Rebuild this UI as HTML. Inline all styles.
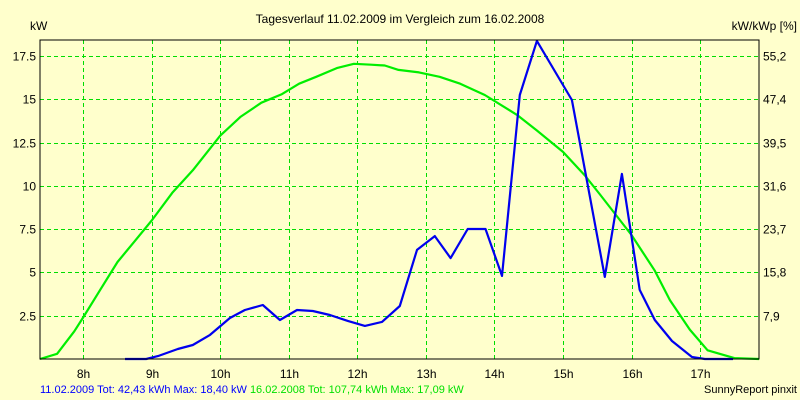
<!DOCTYPE html>
<html><head><meta charset="utf-8"><style>
html,body{margin:0;padding:0;background:#FFFFCC;}
svg{display:block;font-family:"Liberation Sans",sans-serif;}
</style></head><body>
<svg id="chart" width="800" height="400" viewBox="0 0 800 400">
<rect x="0" y="0" width="800" height="400" fill="#FFFFCC"/>
<text x="400" y="23" font-size="12" text-anchor="middle" fill="#000">Tagesverlauf 11.02.2009 im Vergleich zum 16.02.2008</text>
<text x="30" y="30" font-size="12" fill="#000">kW</text>
<text x="797" y="30" font-size="12" text-anchor="end" fill="#000">kW/kWp [%]</text>
<g id="grid"></g>
<g id="series"></g>
<g id="labels"></g>
<rect x="40" y="40" width="719" height="319" fill="none" stroke="#000" stroke-width="1"/>
<text x="40" y="393" font-size="11" fill="#0000FF">11.02.2009 Tot: 42,43 kWh Max: 18,40 kW <tspan fill="#00E000">16.02.2008 Tot: 107,74 kWh Max: 17,09 kW</tspan></text>
<text x="797" y="393" font-size="11" text-anchor="end" fill="#000">SunnyReport pinxit</text>
</svg>
<script>
const yTicks = [2.5, 5, 7.5, 10, 12.5, 15, 17.5];
const yTickLabels = ["2.5","5","7.5","10","12.5","15","17.5"];
const rightTickLabels = ["7,9","15,8","23,7","31,6","39,5","47,4","55,2"];
const xTicks = [8,9,10,11,12,13,14,15,16,17];
const xTickLabels = ["8h","9h","10h","11h","12h","13h","14h","15h","16h","17h"];
const blueHours = [8.61,8.92,9.09,9.38,9.60,9.85,10.14,10.36,10.62,10.87,11.12,11.35,11.60,11.86,12.11,12.36,12.62,12.87,13.13,13.36,13.61,13.87,14.11,14.37,14.62,15.13,15.61,15.86,16.12,16.34,16.59,16.88,17.07,17.48];
const blueKw = [0,0,0.17,0.58,0.81,1.39,2.37,2.83,3.12,2.25,2.83,2.77,2.54,2.2,1.91,2.14,3.06,6.3,7.1,5.83,7.51,7.51,4.8,15.25,18.37,14.96,4.74,10.69,3.99,2.25,1.04,0.12,0,0];
const greenHours = [7.37,7.62,7.87,8.0,8.25,8.5,8.75,9.0,9.3,9.6,10.0,10.3,10.6,10.9,11.15,11.4,11.7,11.95,12.2,12.4,12.6,12.9,13.2,13.5,13.86,14.33,14.62,15.0,15.32,15.54,16.0,16.34,16.56,16.85,17.11,17.5,17.86];
const greenKw = [0,0.3,1.6,2.4,4.0,5.6,6.8,8.0,9.6,10.9,12.9,14.0,14.8,15.3,15.9,16.3,16.8,17.05,17.0,16.95,16.7,16.55,16.3,15.9,15.25,14.1,13.2,11.96,10.6,9.5,7.16,5.1,3.4,1.7,0.5,0.05,0];

const X0=40, X1=759, Y0=359, Y1=56;
const H0=7.37, H1=17.86;
const xs = h => X0 + (h-H0)/(H1-H0)*(X1-X0);
const ys = v => Y0 - v/17.5*(Y0-Y1);
const NS="http://www.w3.org/2000/svg";
const grid=document.getElementById('grid'), series=document.getElementById('series'), labels=document.getElementById('labels');
function mk(tag, attrs, parent){const e=document.createElementNS(NS,tag);for(const k in attrs)e.setAttribute(k,attrs[k]);parent.appendChild(e);return e;}
yTicks.forEach((v,i)=>{
  const y=Math.round(ys(v))+0.5;
  const l=mk('line',{x1:X0,x2:X1,y1:y,y2:y,stroke:'#00DD00','stroke-dasharray':'4,3'},grid);
  
  
  const t=mk('text',{x:36,y:y+4,'font-size':12,'text-anchor':'end',fill:'#000'},labels);
  t.textContent=yTickLabels[i];
  
  
  const r=mk('text',{x:763,y:y+4,'font-size':12,fill:'#000'},labels);
  r.textContent=rightTickLabels[i];
  
  
});
xTicks.forEach((h,i)=>{
  const x=Math.round(xs(h))+0.5;
  const l=mk('line',{x1:x,x2:x,y1:40,y2:Y0,stroke:'#00DD00','stroke-dasharray':'4,3'},grid);
  
  
  const t=mk('text',{x:x,y:378,'font-size':12,'text-anchor':'middle',fill:'#000'},labels);
  t.textContent=xTickLabels[i];
  
  
});
function line(hs,vs,color,name){
  const d=hs.map((h,i)=>(i?'L':'M')+xs(h).toFixed(1)+','+ys(vs[i]).toFixed(1)).join(' ');
  const p=mk('path',{d:d,fill:'none',stroke:color,'stroke-width':2.2,'stroke-linejoin':'round'},series);
  
  
}
line(greenHours,greenKw,'#00EE00','series-2008-line');
line(blueHours,blueKw,'#0000EE','series-2009-line');
</script>
</body></html>
